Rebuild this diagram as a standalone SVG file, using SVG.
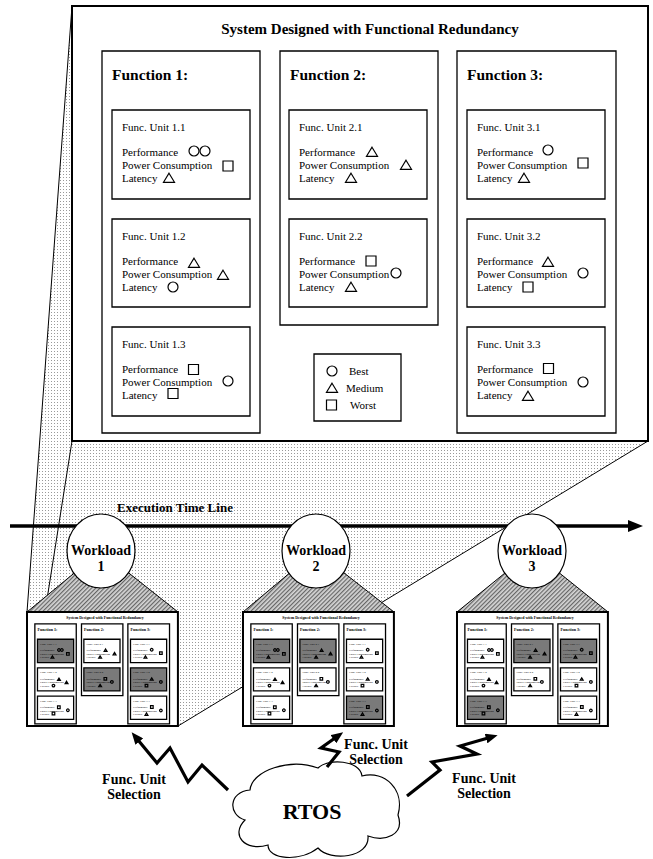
<svg xmlns="http://www.w3.org/2000/svg" xmlns:xlink="http://www.w3.org/1999/xlink" width="653" height="859" viewBox="0 0 653 859">
<style>
  .t { font-family: "Liberation Serif", "Times New Roman", serif; fill: #000; }
  .b { font-weight: bold; }
  .u { font-size: 11px; }
  .box { fill: none; stroke: #000; stroke-width: 1.3; vector-effect: non-scaling-stroke; }
  .frame { fill: none; stroke: #000; stroke-width: 2; vector-effect: non-scaling-stroke; }
  .sym { fill: none; stroke: #000; stroke-width: 1.2; vector-effect: non-scaling-stroke; }
  .proj { fill: none; stroke: #000; stroke-width: 1; }
  .bolt { fill: none; stroke: #000; stroke-width: 3.2; stroke-linejoin: miter; }
  .hl { fill: #7a7a7a; }
</style>
<defs>
  <pattern id="dots" width="3" height="3" patternUnits="userSpaceOnUse">
    <rect width="3" height="3" fill="#fff"/>
    <rect width="1" height="1" fill="#999"/>
  </pattern>
  <pattern id="hatch" width="3" height="3" patternUnits="userSpaceOnUse" patternTransform="rotate(45)">
    <rect width="3" height="3" fill="#d6d6d6"/>
    <rect width="1.2" height="3" fill="#666"/>
  </pattern>
  <circle id="c" r="5" class="sym"/>
  <path id="tr" d="M0,-4.8 L5.5,4.3 L-5.5,4.3 Z" class="sym"/>
  <rect id="sq" x="-5" y="-5" width="10" height="10" class="sym"/>
  <marker id="ah" viewBox="0 0 12 10" refX="2" refY="5" markerWidth="12" markerHeight="10" markerUnits="userSpaceOnUse" orient="auto">
    <path d="M0,0 L12,5 L0,10 Z" fill="#000"/>
  </marker>
</defs>

<!-- projection background -->
<g id="projection">
  <polygon points="72,6 648,6 648,441 178,726 27,726 27,612" fill="url(#dots)"/>
  <line x1="72" y1="6" x2="27" y2="612" class="proj"/>
  <line x1="72" y1="441" x2="27" y2="726" class="proj"/>
  <line x1="648" y1="441" x2="178" y2="726" class="proj"/>
</g>

<!-- timeline -->
<g id="timeline">
  <line x1="10" y1="526" x2="630" y2="526" stroke="#000" stroke-width="3.5"/>
  <path d="M628,520 L643,526 L628,532 Z" fill="#000"/>
  <text class="t b" x="175" y="512" font-size="13" text-anchor="middle">Execution Time Line</text>
</g>

<!-- main system -->
<rect x="72" y="6" width="576" height="435" fill="#fff"/>
<g id="mainSystem">
<g id="system">
  <rect x="72" y="6" width="576" height="435" class="frame"/>
  <text class="t b" x="370" y="34" font-size="15" text-anchor="middle">System Designed with Functional Redundancy</text>

  <g id="function1">
    <rect x="102" y="51" width="158" height="382" class="box"/>
    <text class="t b" x="112" y="80" font-size="15.5">Function 1:</text>
    <g id="unit-1-1">
      <rect x="112" y="110" width="138" height="89" class="box"/>
      <text class="t u" x="122" y="131">Func. Unit 1.1</text>
      <text class="t u" x="122" y="156">Performance</text>
      <text class="t u" x="122" y="169">Power Consumption</text>
      <text class="t u" x="122" y="182">Latency</text>
      <use href="#c" x="194" y="151"/><use href="#c" x="205" y="151"/>
      <use href="#sq" x="228" y="166"/>
      <use href="#tr" x="169" y="178"/>
    </g>
    <g id="unit-1-2">
      <rect x="112" y="219" width="138" height="88" class="box"/>
      <text class="t u" x="122" y="240">Func. Unit 1.2</text>
      <text class="t u" x="122" y="265">Performance</text>
      <text class="t u" x="122" y="278">Power Consumption</text>
      <text class="t u" x="122" y="291">Latency</text>
      <use href="#tr" x="194" y="263"/>
      <use href="#tr" x="223" y="275"/>
      <use href="#c" x="173" y="287"/>
    </g>
    <g id="unit-1-3">
      <rect x="112" y="327" width="138" height="89" class="box"/>
      <text class="t u" x="122" y="348">Func. Unit 1.3</text>
      <text class="t u" x="122" y="373">Performance</text>
      <text class="t u" x="122" y="386">Power Consumption</text>
      <text class="t u" x="122" y="399">Latency</text>
      <use href="#sq" x="193.5" y="369.5"/>
      <use href="#c" x="228" y="381"/>
      <use href="#sq" x="173" y="393.5"/>
    </g>
  </g>

  <g id="function2">
    <rect x="280" y="51" width="158" height="274" class="box"/>
    <text class="t b" x="290" y="80" font-size="15.5">Function 2:</text>
    <g id="unit-2-1">
      <rect x="289" y="110" width="138" height="89" class="box"/>
      <text class="t u" x="299" y="131">Func. Unit 2.1</text>
      <text class="t u" x="299" y="156">Performance</text>
      <text class="t u" x="299" y="169">Power Consumption</text>
      <text class="t u" x="299" y="182">Latency</text>
      <use href="#tr" x="372" y="152"/>
      <use href="#tr" x="406" y="165"/>
      <use href="#tr" x="351" y="178"/>
    </g>
    <g id="unit-2-2">
      <rect x="289" y="219" width="138" height="88" class="box"/>
      <text class="t u" x="299" y="240">Func. Unit 2.2</text>
      <text class="t u" x="299" y="265">Performance</text>
      <text class="t u" x="299" y="278">Power Consumption</text>
      <text class="t u" x="299" y="291">Latency</text>
      <use href="#sq" x="371" y="261"/>
      <use href="#c" x="396" y="273"/>
      <use href="#tr" x="351" y="287"/>
    </g>
  </g>

  <g id="function3">
    <rect x="457" y="51" width="159" height="382" class="box"/>
    <text class="t b" x="467" y="80" font-size="15.5">Function 3:</text>
    <g id="unit-3-1">
      <rect x="467" y="110" width="138" height="89" class="box"/>
      <text class="t u" x="477" y="131">Func. Unit 3.1</text>
      <text class="t u" x="477" y="156">Performance</text>
      <text class="t u" x="477" y="169">Power Consumption</text>
      <text class="t u" x="477" y="182">Latency</text>
      <use href="#c" x="548" y="150"/>
      <use href="#sq" x="583" y="163"/>
      <use href="#tr" x="524" y="178"/>
    </g>
    <g id="unit-3-2">
      <rect x="467" y="219" width="138" height="88" class="box"/>
      <text class="t u" x="477" y="240">Func. Unit 3.2</text>
      <text class="t u" x="477" y="265">Performance</text>
      <text class="t u" x="477" y="278">Power Consumption</text>
      <text class="t u" x="477" y="291">Latency</text>
      <use href="#tr" x="548" y="262"/>
      <use href="#c" x="583" y="273"/>
      <use href="#sq" x="528" y="287"/>
    </g>
    <g id="unit-3-3">
      <rect x="467" y="327" width="138" height="89" class="box"/>
      <text class="t u" x="477" y="348">Func. Unit 3.3</text>
      <text class="t u" x="477" y="373">Performance</text>
      <text class="t u" x="477" y="386">Power Consumption</text>
      <text class="t u" x="477" y="399">Latency</text>
      <use href="#sq" x="548.5" y="368.5"/>
      <use href="#c" x="583" y="382"/>
      <use href="#tr" x="528" y="396"/>
    </g>
  </g>
</g>

  <g id="legend">
    <rect x="314" y="354" width="87" height="67" class="box"/>
    <use href="#c" x="332" y="371"/>
    <text class="t u" x="349" y="375">Best</text>
    <use href="#tr" x="332" y="388"/>
    <text class="t u" x="346" y="392">Medium</text>
    <use href="#sq" x="331.5" y="405"/>
    <text class="t u" x="350" y="409">Worst</text>
  </g>
</g>

<!-- workloads -->
<g id="workload1">
  <polygon points="27,612 178,612 101,551" fill="url(#hatch)" stroke="#000" stroke-width="1"/>
  <g transform="translate(27,612) scale(0.262) translate(-72,-6)">
    <rect x="72" y="6" width="576" height="435" fill="#fff"/>
    <rect x="112" y="110" width="138" height="89" class="hl"/>
    <rect x="289" y="219" width="138" height="88" class="hl"/>
    <rect x="467" y="219" width="138" height="88" class="hl"/>
    <use href="#system"/>
  </g>
  <ellipse cx="101" cy="551" rx="34" ry="37" fill="#fff" stroke="#000" stroke-width="1.2"/>
  <text class="t b" x="101" y="555" font-size="14" text-anchor="middle">Workload</text>
  <text class="t b" x="101" y="571" font-size="14" text-anchor="middle">1</text>
</g>

<g id="workload2">
  <polygon points="243,612 394,612 316,551" fill="url(#hatch)" stroke="#000" stroke-width="1"/>
  <g transform="translate(243,612) scale(0.262) translate(-72,-6)">
    <rect x="72" y="6" width="576" height="435" fill="#fff"/>
    <rect x="112" y="110" width="138" height="89" class="hl"/>
    <rect x="289" y="110" width="138" height="89" class="hl"/>
    <rect x="467" y="327" width="138" height="89" class="hl"/>
    <use href="#system"/>
  </g>
  <ellipse cx="316" cy="551" rx="34" ry="37" fill="#fff" stroke="#000" stroke-width="1.2"/>
  <text class="t b" x="316" y="555" font-size="14" text-anchor="middle">Workload</text>
  <text class="t b" x="316" y="571" font-size="14" text-anchor="middle">2</text>
</g>

<g id="workload3">
  <polygon points="457,612 608,612 532,551" fill="url(#hatch)" stroke="#000" stroke-width="1"/>
  <g transform="translate(457,612) scale(0.262) translate(-72,-6)">
    <rect x="72" y="6" width="576" height="435" fill="#fff"/>
    <rect x="112" y="327" width="138" height="89" class="hl"/>
    <rect x="289" y="110" width="138" height="89" class="hl"/>
    <rect x="467" y="110" width="138" height="89" class="hl"/>
    <use href="#system"/>
  </g>
  <ellipse cx="532" cy="551" rx="34" ry="37" fill="#fff" stroke="#000" stroke-width="1.2"/>
  <text class="t b" x="532" y="555" font-size="14" text-anchor="middle">Workload</text>
  <text class="t b" x="532" y="571" font-size="14" text-anchor="middle">3</text>
</g>

<!-- RTOS -->
<g id="rtos">
  <path d="M245,820 C228,815 228,792 250,790 C252,770 290,758 318,768 C328,758 360,760 362,776 C385,770 405,790 398,815 C405,835 385,842 368,836 C370,858 330,862 318,848 C300,862 268,860 268,845 C245,852 230,835 245,820 Z" fill="#fff" stroke="#000" stroke-width="1.2"/>
  <text class="t b" x="312" y="819" font-size="22" text-anchor="middle">RTOS</text>
</g>

<!-- connectors -->
<g id="connectors">
  <polyline class="bolt" points="228,790 202,765 188,782 170,748 157,763 138,740" marker-end="url(#ah)"/>
  <polyline class="bolt" points="327,767 339,752 321,748 335,738" marker-end="url(#ah)"/>
  <polyline class="bolt" points="407,796 440,770 432,762 477,754 460,746 488,738" marker-end="url(#ah)"/>
</g>

<g id="labels">
  <text class="t b" x="134" y="784" font-size="14" text-anchor="middle">Func. Unit</text>
  <text class="t b" x="134" y="799" font-size="14" text-anchor="middle">Selection</text>
  <text class="t b" x="376" y="749" font-size="14" text-anchor="middle">Func. Unit</text>
  <text class="t b" x="376" y="764" font-size="14" text-anchor="middle">Selection</text>
  <text class="t b" x="484" y="783" font-size="14" text-anchor="middle">Func. Unit</text>
  <text class="t b" x="484" y="798" font-size="14" text-anchor="middle">Selection</text>
</g>
</svg>
